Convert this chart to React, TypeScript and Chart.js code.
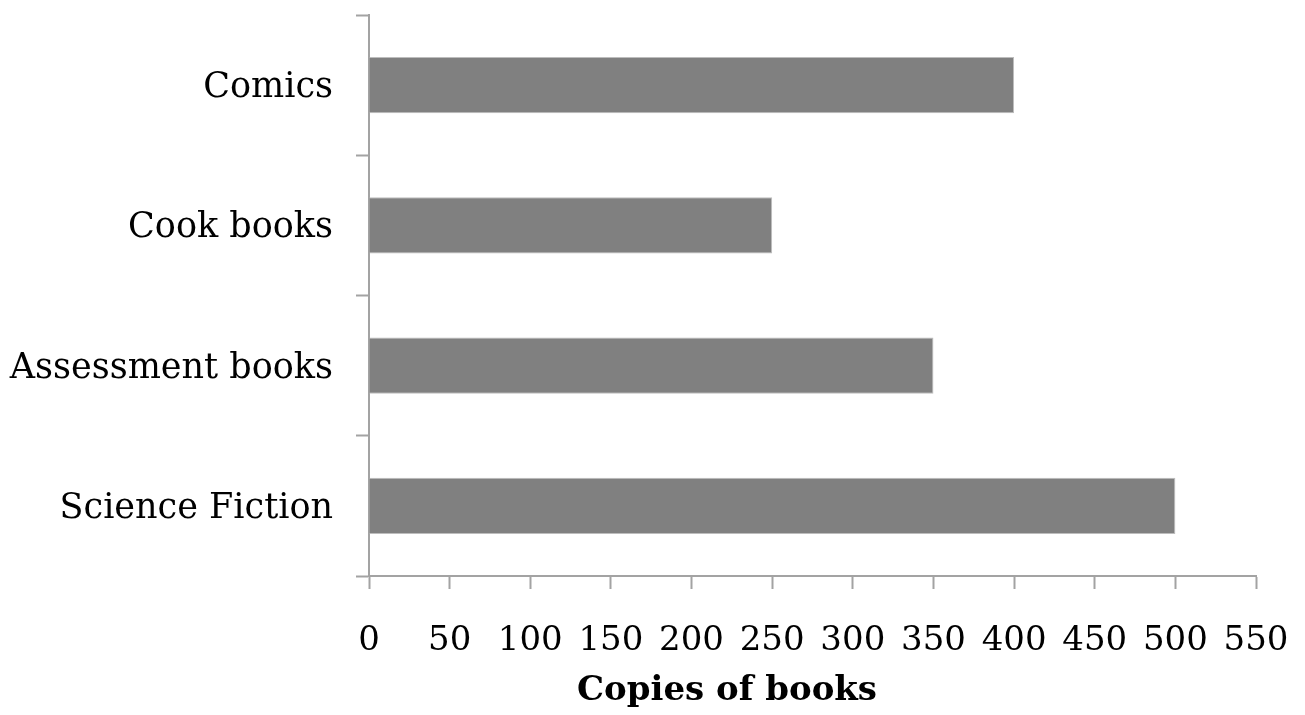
import React, { useEffect, useRef } from "react";
import { Chart, registerables } from "chart.js";

Chart.register(...registerables);

const categories = ["Comics", "Cook books", "Assessment books", "Science Fiction"];
const copies = [400, 250, 350, 500];
const xMin = 0;
const xMax = 550;
const xStep = 50;
const xTitle = "Copies of books";

export default function App() {
  const ref = useRef<HTMLCanvasElement | null>(null);

  useEffect(() => {
    if (!ref.current) return;
    const axisColor = "#a3a3a3";
    const font = "'DejaVu Serif', serif";
    const chart = new Chart(ref.current, {
      type: "bar",
      data: {
        labels: categories,
        datasets: [
          {
            data: copies,
            backgroundColor: "#808080",
            borderColor: "#bdbdbd",
            borderWidth: 1,
            categoryPercentage: 0.4,
            barPercentage: 1,
          },
        ],
      },
      options: {
        indexAxis: "y",
        responsive: false,
        animation: false,
        devicePixelRatio: 1,
        layout: { padding: { left: 198, right: 49, top: 15, bottom: 0 } },
        plugins: {
          legend: { display: false },
          tooltip: { enabled: false },
          title: {
            display: true,
            position: "bottom",
            text: xTitle,
            color: "#000",
            font: { family: font, size: 34, weight: "bold" },
            padding: { top: 0, bottom: 3 },
          },
        },
        scales: {
          x: {
            min: xMin,
            max: xMax,
            ticks: {
              stepSize: xStep,
              color: "#000",
              font: { family: font, size: 34 },
              padding: 32,
              maxRotation: 0,
              autoSkip: false,
            },
            grid: {
              drawOnChartArea: false,
              drawTicks: true,
              tickLength: 13,
              tickColor: axisColor,
              tickWidth: 2,
            },
            border: { color: axisColor, width: 2 },
            afterFit: (scale: any) => {
              scale.height = 95.2;
              scale.paddingLeft = 0;
              scale.paddingRight = 0;
              scale.paddingTop = 0;
              scale.paddingBottom = 0;
            },
          },
          y: {
            ticks: {
              color: "#000",
              font: { family: font, size: 35 },
              padding: 23,
              labelOffset: 3,
              autoSkip: false,
            },
            grid: {
              drawOnChartArea: false,
              drawTicks: true,
              tickLength: 13,
              tickColor: axisColor,
              tickWidth: 2,
              offset: true,
            },
            border: { color: axisColor, width: 2 },
            afterFit: (scale: any) => {
              scale.width = 171;
              scale.paddingLeft = 0;
              scale.paddingRight = 0;
              scale.paddingTop = 0;
              scale.paddingBottom = 0;
              scale._computeLabelArea = () => undefined;
            },
          },
        },
      },
    });
    return () => chart.destroy();
  }, []);

  return (
    <div style={{ position: "fixed", left: 0, top: 0, width: 1305, height: 715, background: "#fff" }}>
      <canvas ref={ref} width={1305} height={715} style={{ width: 1305, height: 715 }} />
    </div>
  );
}
